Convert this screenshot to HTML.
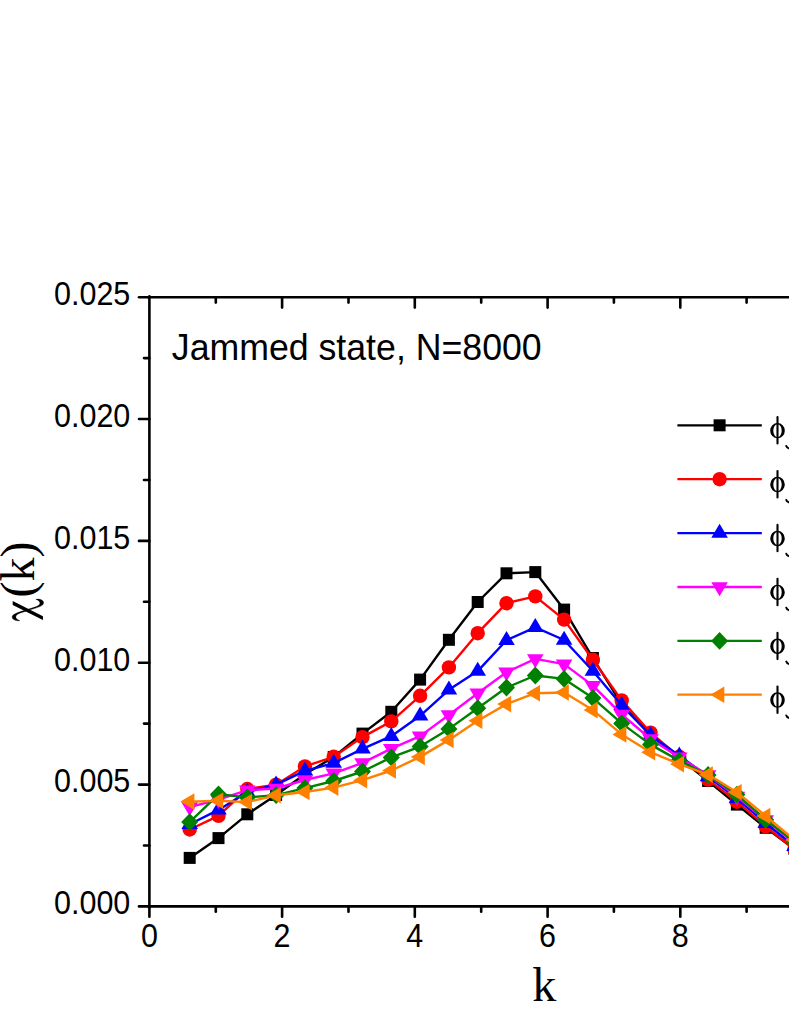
<!DOCTYPE html>
<html><head><meta charset="utf-8"><title>chart</title>
<style>html,body{margin:0;padding:0;background:#fff;}svg{display:block;}text{font-family:"Liberation Sans",sans-serif;fill:#000;}.s{font-family:"Liberation Serif",serif;}</style></head><body>
<svg width="789" height="1021" viewBox="0 0 789 1021">
<rect width="789" height="1021" fill="#fff"/>
<polyline points="189.7,857.9 218.5,838.1 247.3,814.3 276.1,795.0 304.9,774.3 333.7,757.0 362.5,733.6 391.3,711.8 420.1,679.6 448.9,639.8 477.7,602.0 506.5,573.3 535.3,572.1 564.1,609.6 592.9,658.0 621.7,704.4 650.5,735.0 679.3,758.0 708.1,781.0 736.9,804.6 765.7,827.8 794.5,849.0" fill="none" stroke="#000000" stroke-width="2.4" stroke-linejoin="round"/>
<rect x="183.7" y="851.9" width="12.0" height="12.0" fill="#000000"/>
<rect x="212.5" y="832.1" width="12.0" height="12.0" fill="#000000"/>
<rect x="241.3" y="808.3" width="12.0" height="12.0" fill="#000000"/>
<rect x="270.1" y="789.0" width="12.0" height="12.0" fill="#000000"/>
<rect x="298.9" y="768.3" width="12.0" height="12.0" fill="#000000"/>
<rect x="327.7" y="751.0" width="12.0" height="12.0" fill="#000000"/>
<rect x="356.5" y="727.6" width="12.0" height="12.0" fill="#000000"/>
<rect x="385.3" y="705.8" width="12.0" height="12.0" fill="#000000"/>
<rect x="414.1" y="673.6" width="12.0" height="12.0" fill="#000000"/>
<rect x="442.9" y="633.8" width="12.0" height="12.0" fill="#000000"/>
<rect x="471.7" y="596.0" width="12.0" height="12.0" fill="#000000"/>
<rect x="500.5" y="567.3" width="12.0" height="12.0" fill="#000000"/>
<rect x="529.3" y="566.1" width="12.0" height="12.0" fill="#000000"/>
<rect x="558.1" y="603.6" width="12.0" height="12.0" fill="#000000"/>
<rect x="586.9" y="652.0" width="12.0" height="12.0" fill="#000000"/>
<rect x="615.7" y="698.4" width="12.0" height="12.0" fill="#000000"/>
<rect x="644.5" y="729.0" width="12.0" height="12.0" fill="#000000"/>
<rect x="673.3" y="752.0" width="12.0" height="12.0" fill="#000000"/>
<rect x="702.1" y="775.0" width="12.0" height="12.0" fill="#000000"/>
<rect x="730.9" y="798.6" width="12.0" height="12.0" fill="#000000"/>
<rect x="759.7" y="821.8" width="12.0" height="12.0" fill="#000000"/>
<rect x="788.5" y="843.0" width="12.0" height="12.0" fill="#000000"/>
<polyline points="189.7,829.5 218.5,815.8 247.3,789.0 276.1,784.7 304.9,766.4 333.7,756.8 362.5,737.1 391.3,721.4 420.1,695.8 448.9,667.4 477.7,633.2 506.5,603.2 535.3,596.4 564.1,619.6 592.9,659.8 621.7,700.4 650.5,732.6 679.3,756.8 708.1,779.6 736.9,801.7 765.7,826.5 794.5,849.5" fill="none" stroke="#ff0000" stroke-width="2.4" stroke-linejoin="round"/>
<circle cx="189.7" cy="829.5" r="7.2" fill="#ff0000"/>
<circle cx="218.5" cy="815.8" r="7.2" fill="#ff0000"/>
<circle cx="247.3" cy="789.0" r="7.2" fill="#ff0000"/>
<circle cx="276.1" cy="784.7" r="7.2" fill="#ff0000"/>
<circle cx="304.9" cy="766.4" r="7.2" fill="#ff0000"/>
<circle cx="333.7" cy="756.8" r="7.2" fill="#ff0000"/>
<circle cx="362.5" cy="737.1" r="7.2" fill="#ff0000"/>
<circle cx="391.3" cy="721.4" r="7.2" fill="#ff0000"/>
<circle cx="420.1" cy="695.8" r="7.2" fill="#ff0000"/>
<circle cx="448.9" cy="667.4" r="7.2" fill="#ff0000"/>
<circle cx="477.7" cy="633.2" r="7.2" fill="#ff0000"/>
<circle cx="506.5" cy="603.2" r="7.2" fill="#ff0000"/>
<circle cx="535.3" cy="596.4" r="7.2" fill="#ff0000"/>
<circle cx="564.1" cy="619.6" r="7.2" fill="#ff0000"/>
<circle cx="592.9" cy="659.8" r="7.2" fill="#ff0000"/>
<circle cx="621.7" cy="700.4" r="7.2" fill="#ff0000"/>
<circle cx="650.5" cy="732.6" r="7.2" fill="#ff0000"/>
<circle cx="679.3" cy="756.8" r="7.2" fill="#ff0000"/>
<circle cx="708.1" cy="779.6" r="7.2" fill="#ff0000"/>
<circle cx="736.9" cy="801.7" r="7.2" fill="#ff0000"/>
<circle cx="765.7" cy="826.5" r="7.2" fill="#ff0000"/>
<circle cx="794.5" cy="849.5" r="7.2" fill="#ff0000"/>
<polyline points="189.7,824.3 218.5,809.9 247.3,792.0 276.1,784.7 304.9,770.8 333.7,763.1 362.5,748.9 391.3,736.2 420.1,715.8 448.9,689.8 477.7,671.1 506.5,640.2 535.3,627.3 564.1,640.0 592.9,671.0 621.7,705.3 650.5,735.2 679.3,755.7 708.1,776.6 736.9,798.6 765.7,823.2 794.5,846.3" fill="none" stroke="#0000ff" stroke-width="2.4" stroke-linejoin="round"/>
<polygon points="189.7,815.0 198.0,829.0 181.4,829.0" fill="#0000ff"/>
<polygon points="218.5,800.6 226.8,814.6 210.2,814.6" fill="#0000ff"/>
<polygon points="247.3,782.7 255.6,796.7 239.0,796.7" fill="#0000ff"/>
<polygon points="276.1,775.4 284.4,789.4 267.8,789.4" fill="#0000ff"/>
<polygon points="304.9,761.5 313.2,775.5 296.6,775.5" fill="#0000ff"/>
<polygon points="333.7,753.8 342.0,767.8 325.4,767.8" fill="#0000ff"/>
<polygon points="362.5,739.6 370.8,753.6 354.2,753.6" fill="#0000ff"/>
<polygon points="391.3,726.9 399.6,740.9 383.0,740.9" fill="#0000ff"/>
<polygon points="420.1,706.5 428.4,720.5 411.8,720.5" fill="#0000ff"/>
<polygon points="448.9,680.5 457.2,694.5 440.6,694.5" fill="#0000ff"/>
<polygon points="477.7,661.8 486.0,675.8 469.4,675.8" fill="#0000ff"/>
<polygon points="506.5,630.9 514.8,644.9 498.2,644.9" fill="#0000ff"/>
<polygon points="535.3,618.0 543.6,632.0 527.0,632.0" fill="#0000ff"/>
<polygon points="564.1,630.7 572.4,644.7 555.8,644.7" fill="#0000ff"/>
<polygon points="592.9,661.7 601.2,675.7 584.6,675.7" fill="#0000ff"/>
<polygon points="621.7,696.0 630.0,710.0 613.4,710.0" fill="#0000ff"/>
<polygon points="650.5,725.9 658.8,739.9 642.2,739.9" fill="#0000ff"/>
<polygon points="679.3,746.4 687.6,760.4 671.0,760.4" fill="#0000ff"/>
<polygon points="708.1,767.3 716.4,781.3 699.8,781.3" fill="#0000ff"/>
<polygon points="736.9,789.3 745.2,803.3 728.6,803.3" fill="#0000ff"/>
<polygon points="765.7,813.9 774.0,827.9 757.4,827.9" fill="#0000ff"/>
<polygon points="794.5,837.0 802.8,851.0 786.2,851.0" fill="#0000ff"/>
<polyline points="189.7,807.0 218.5,799.6 247.3,790.2 276.1,788.5 304.9,780.0 333.7,773.3 362.5,762.9 391.3,748.6 420.1,736.1 448.9,715.0 477.7,693.3 506.5,672.2 535.3,658.9 564.1,664.1 592.9,685.6 621.7,714.4 650.5,739.0 679.3,757.3 708.1,775.0 736.9,796.5 765.7,820.0 794.5,843.0" fill="none" stroke="#ff00ff" stroke-width="2.4" stroke-linejoin="round"/>
<polygon points="189.7,816.3 198.0,802.3 181.4,802.3" fill="#ff00ff"/>
<polygon points="218.5,808.9 226.8,794.9 210.2,794.9" fill="#ff00ff"/>
<polygon points="247.3,799.5 255.6,785.5 239.0,785.5" fill="#ff00ff"/>
<polygon points="276.1,797.8 284.4,783.8 267.8,783.8" fill="#ff00ff"/>
<polygon points="304.9,789.3 313.2,775.3 296.6,775.3" fill="#ff00ff"/>
<polygon points="333.7,782.6 342.0,768.6 325.4,768.6" fill="#ff00ff"/>
<polygon points="362.5,772.2 370.8,758.2 354.2,758.2" fill="#ff00ff"/>
<polygon points="391.3,757.9 399.6,743.9 383.0,743.9" fill="#ff00ff"/>
<polygon points="420.1,745.4 428.4,731.4 411.8,731.4" fill="#ff00ff"/>
<polygon points="448.9,724.3 457.2,710.3 440.6,710.3" fill="#ff00ff"/>
<polygon points="477.7,702.6 486.0,688.6 469.4,688.6" fill="#ff00ff"/>
<polygon points="506.5,681.5 514.8,667.5 498.2,667.5" fill="#ff00ff"/>
<polygon points="535.3,668.2 543.6,654.2 527.0,654.2" fill="#ff00ff"/>
<polygon points="564.1,673.4 572.4,659.4 555.8,659.4" fill="#ff00ff"/>
<polygon points="592.9,694.9 601.2,680.9 584.6,680.9" fill="#ff00ff"/>
<polygon points="621.7,723.7 630.0,709.7 613.4,709.7" fill="#ff00ff"/>
<polygon points="650.5,748.3 658.8,734.3 642.2,734.3" fill="#ff00ff"/>
<polygon points="679.3,766.6 687.6,752.6 671.0,752.6" fill="#ff00ff"/>
<polygon points="708.1,784.3 716.4,770.3 699.8,770.3" fill="#ff00ff"/>
<polygon points="736.9,805.8 745.2,791.8 728.6,791.8" fill="#ff00ff"/>
<polygon points="765.7,829.3 774.0,815.3 757.4,815.3" fill="#ff00ff"/>
<polygon points="794.5,852.3 802.8,838.3 786.2,838.3" fill="#ff00ff"/>
<polyline points="189.7,822.1 218.5,794.3 247.3,797.4 276.1,795.2 304.9,788.1 333.7,781.0 362.5,771.5 391.3,757.4 420.1,746.6 448.9,728.9 477.7,708.2 506.5,687.6 535.3,675.5 564.1,678.9 592.9,698.1 621.7,723.4 650.5,744.6 679.3,760.6 708.1,775.0 736.9,794.6 765.7,819.8 794.5,842.0" fill="none" stroke="#008000" stroke-width="2.4" stroke-linejoin="round"/>
<polygon points="189.7,813.2 198.2,822.1 189.7,831.0 181.2,822.1" fill="#008000"/>
<polygon points="218.5,785.4 227.0,794.3 218.5,803.2 210.0,794.3" fill="#008000"/>
<polygon points="247.3,788.5 255.8,797.4 247.3,806.3 238.8,797.4" fill="#008000"/>
<polygon points="276.1,786.3 284.6,795.2 276.1,804.1 267.6,795.2" fill="#008000"/>
<polygon points="304.9,779.2 313.4,788.1 304.9,797.0 296.4,788.1" fill="#008000"/>
<polygon points="333.7,772.1 342.2,781.0 333.7,789.9 325.2,781.0" fill="#008000"/>
<polygon points="362.5,762.6 371.0,771.5 362.5,780.4 354.0,771.5" fill="#008000"/>
<polygon points="391.3,748.5 399.8,757.4 391.3,766.3 382.8,757.4" fill="#008000"/>
<polygon points="420.1,737.7 428.6,746.6 420.1,755.5 411.6,746.6" fill="#008000"/>
<polygon points="448.9,720.0 457.4,728.9 448.9,737.8 440.4,728.9" fill="#008000"/>
<polygon points="477.7,699.3 486.2,708.2 477.7,717.1 469.2,708.2" fill="#008000"/>
<polygon points="506.5,678.7 515.0,687.6 506.5,696.5 498.0,687.6" fill="#008000"/>
<polygon points="535.3,666.6 543.8,675.5 535.3,684.4 526.8,675.5" fill="#008000"/>
<polygon points="564.1,670.0 572.6,678.9 564.1,687.8 555.6,678.9" fill="#008000"/>
<polygon points="592.9,689.2 601.4,698.1 592.9,707.0 584.4,698.1" fill="#008000"/>
<polygon points="621.7,714.5 630.2,723.4 621.7,732.3 613.2,723.4" fill="#008000"/>
<polygon points="650.5,735.7 659.0,744.6 650.5,753.5 642.0,744.6" fill="#008000"/>
<polygon points="679.3,751.7 687.8,760.6 679.3,769.5 670.8,760.6" fill="#008000"/>
<polygon points="708.1,766.1 716.6,775.0 708.1,783.9 699.6,775.0" fill="#008000"/>
<polygon points="736.9,785.7 745.4,794.6 736.9,803.5 728.4,794.6" fill="#008000"/>
<polygon points="765.7,810.9 774.2,819.8 765.7,828.7 757.2,819.8" fill="#008000"/>
<polygon points="794.5,833.1 803.0,842.0 794.5,850.9 786.0,842.0" fill="#008000"/>
<polyline points="189.7,801.6 218.5,800.8 247.3,802.1 276.1,795.3 304.9,792.0 333.7,787.6 362.5,780.2 391.3,770.5 420.1,756.9 448.9,739.9 477.7,720.8 506.5,704.1 535.3,693.2 564.1,692.5 592.9,710.1 621.7,734.4 650.5,752.2 679.3,764.1 708.1,774.6 736.9,792.2 765.7,816.0 794.5,840.0" fill="none" stroke="#ff8000" stroke-width="2.4" stroke-linejoin="round"/>
<polygon points="180.4,801.6 194.4,793.3 194.4,809.9" fill="#ff8000"/>
<polygon points="209.2,800.8 223.2,792.5 223.2,809.1" fill="#ff8000"/>
<polygon points="238.0,802.1 252.0,793.8 252.0,810.4" fill="#ff8000"/>
<polygon points="266.8,795.3 280.8,787.0 280.8,803.6" fill="#ff8000"/>
<polygon points="295.6,792.0 309.6,783.7 309.6,800.3" fill="#ff8000"/>
<polygon points="324.4,787.6 338.4,779.3 338.4,795.9" fill="#ff8000"/>
<polygon points="353.2,780.2 367.2,771.9 367.2,788.5" fill="#ff8000"/>
<polygon points="382.0,770.5 396.0,762.2 396.0,778.8" fill="#ff8000"/>
<polygon points="410.8,756.9 424.8,748.6 424.8,765.2" fill="#ff8000"/>
<polygon points="439.6,739.9 453.6,731.6 453.6,748.2" fill="#ff8000"/>
<polygon points="468.4,720.8 482.4,712.5 482.4,729.1" fill="#ff8000"/>
<polygon points="497.2,704.1 511.2,695.8 511.2,712.4" fill="#ff8000"/>
<polygon points="526.0,693.2 540.0,684.9 540.0,701.5" fill="#ff8000"/>
<polygon points="554.8,692.5 568.8,684.2 568.8,700.8" fill="#ff8000"/>
<polygon points="583.6,710.1 597.6,701.8 597.6,718.4" fill="#ff8000"/>
<polygon points="612.4,734.4 626.4,726.1 626.4,742.7" fill="#ff8000"/>
<polygon points="641.2,752.2 655.2,743.9 655.2,760.5" fill="#ff8000"/>
<polygon points="670.0,764.1 684.0,755.8 684.0,772.4" fill="#ff8000"/>
<polygon points="698.8,774.6 712.8,766.3 712.8,782.9" fill="#ff8000"/>
<polygon points="727.6,792.2 741.6,783.9 741.6,800.5" fill="#ff8000"/>
<polygon points="756.4,816.0 770.4,807.7 770.4,824.3" fill="#ff8000"/>
<polygon points="785.2,840.0 799.2,831.7 799.2,848.3" fill="#ff8000"/>
<g stroke="#000" stroke-width="2.6" fill="none" stroke-linecap="round">
<line x1="149.4" y1="296.2" x2="149.4" y2="907.4"/>
<line x1="148.4" y1="906.4" x2="789" y2="906.4"/>
<line x1="148.4" y1="297.2" x2="789" y2="297.2"/>
<line x1="149.4" y1="906.4" x2="149.4" y2="916.8"/>
<line x1="215.8" y1="906.4" x2="215.8" y2="911.8"/>
<line x1="215.8" y1="297.2" x2="215.8" y2="302.59999999999997"/>
<line x1="282.1" y1="906.4" x2="282.1" y2="916.8"/>
<line x1="282.1" y1="297.2" x2="282.1" y2="307.59999999999997"/>
<line x1="348.5" y1="906.4" x2="348.5" y2="911.8"/>
<line x1="348.5" y1="297.2" x2="348.5" y2="302.59999999999997"/>
<line x1="414.8" y1="906.4" x2="414.8" y2="916.8"/>
<line x1="414.8" y1="297.2" x2="414.8" y2="307.59999999999997"/>
<line x1="481.2" y1="906.4" x2="481.2" y2="911.8"/>
<line x1="481.2" y1="297.2" x2="481.2" y2="302.59999999999997"/>
<line x1="547.6" y1="906.4" x2="547.6" y2="916.8"/>
<line x1="547.6" y1="297.2" x2="547.6" y2="307.59999999999997"/>
<line x1="613.9" y1="906.4" x2="613.9" y2="911.8"/>
<line x1="613.9" y1="297.2" x2="613.9" y2="302.59999999999997"/>
<line x1="680.3" y1="906.4" x2="680.3" y2="916.8"/>
<line x1="680.3" y1="297.2" x2="680.3" y2="307.59999999999997"/>
<line x1="746.6" y1="906.4" x2="746.6" y2="911.8"/>
<line x1="746.6" y1="297.2" x2="746.6" y2="302.59999999999997"/>
<line x1="149.4" y1="906.4" x2="139.0" y2="906.4"/>
<line x1="149.4" y1="845.5" x2="144.0" y2="845.5"/>
<line x1="149.4" y1="784.6" x2="139.0" y2="784.6"/>
<line x1="149.4" y1="723.6" x2="144.0" y2="723.6"/>
<line x1="149.4" y1="662.7" x2="139.0" y2="662.7"/>
<line x1="149.4" y1="601.8" x2="144.0" y2="601.8"/>
<line x1="149.4" y1="540.9" x2="139.0" y2="540.9"/>
<line x1="149.4" y1="480.0" x2="144.0" y2="480.0"/>
<line x1="149.4" y1="419.0" x2="139.0" y2="419.0"/>
<line x1="149.4" y1="358.1" x2="144.0" y2="358.1"/>
<line x1="149.4" y1="297.2" x2="139.0" y2="297.2"/>
</g>
<text transform="translate(149.4,947.3) scale(1,1.06)" font-size="30.5" text-anchor="middle">0</text>
<text transform="translate(282.1,947.3) scale(1,1.06)" font-size="30.5" text-anchor="middle">2</text>
<text transform="translate(414.8,947.3) scale(1,1.06)" font-size="30.5" text-anchor="middle">4</text>
<text transform="translate(547.6,947.3) scale(1,1.06)" font-size="30.5" text-anchor="middle">6</text>
<text transform="translate(680.3,947.3) scale(1,1.06)" font-size="30.5" text-anchor="middle">8</text>
<text transform="translate(130.3,914.2) scale(1,1.06)" font-size="30.5" text-anchor="end">0.000</text>
<text transform="translate(130.3,792.4) scale(1,1.06)" font-size="30.5" text-anchor="end">0.005</text>
<text transform="translate(130.3,670.5) scale(1,1.06)" font-size="30.5" text-anchor="end">0.010</text>
<text transform="translate(130.3,548.7) scale(1,1.06)" font-size="30.5" text-anchor="end">0.015</text>
<text transform="translate(130.3,426.8) scale(1,1.06)" font-size="30.5" text-anchor="end">0.020</text>
<text transform="translate(130.3,305.0) scale(1,1.06)" font-size="30.5" text-anchor="end">0.025</text>
<text transform="translate(171.8,359.9) scale(1,1.06)" font-size="35.7">Jammed state, N=8000</text>
<text class="s" x="532.3" y="1000.7" font-size="48">k</text>
<path d="M12.70 601.01 L12.70 604.89 L42.93 620.07 L42.93 616.19 Z" fill="#000"/>
<path d="M19.95 620.69 C17.26 621.21 12.13 620.24 12.13 617.10 C12.13 614.25 16.41 612.82 27.82 609.28 C34.66 607.29 39.91 605.98 39.91 603.12 C39.91 601.41 38.37 600.27 35.80 599.30 C39.23 598.56 43.68 599.99 43.68 602.84 C43.68 605.69 39.23 607.12 27.82 610.65 C20.97 612.65 15.84 613.96 15.84 616.81 C15.84 618.53 17.26 619.67 19.95 620.69 Z" fill="#000" stroke="#000" stroke-width="0.3" stroke-linejoin="round"/>
<text class="s" transform="translate(34.2,597.4) rotate(-90)" font-size="48">(k)</text>
<line x1="677.4" y1="425.3" x2="761.8" y2="425.3" stroke="#000000" stroke-width="2.3"/>
<rect x="713.6" y="419.3" width="12.0" height="12.0" fill="#000000"/>
<path d="M770.20 430.65 a7.3 7.7 0 1 1 14.6 0 a7.3 7.7 0 1 1 -14.6 0 Z M773.30 430.65 a4.2 6.5 0 1 0 8.4 0 a4.2 6.5 0 1 0 -8.4 0 Z" fill="#000" fill-rule="evenodd"/>
<line x1="777.5" y1="417.1" x2="777.5" y2="443.5" stroke="#000" stroke-width="2.1" stroke-linecap="round"/>
<path d="M786.3 446.0 q0.7 2.6 3.8 2.6" fill="none" stroke="#000" stroke-width="2.0" stroke-linecap="round"/>
<line x1="677.4" y1="479.2" x2="761.8" y2="479.2" stroke="#ff0000" stroke-width="2.3"/>
<circle cx="719.6" cy="479.2" r="7.2" fill="#ff0000"/>
<path d="M770.20 484.55 a7.3 7.7 0 1 1 14.6 0 a7.3 7.7 0 1 1 -14.6 0 Z M773.30 484.55 a4.2 6.5 0 1 0 8.4 0 a4.2 6.5 0 1 0 -8.4 0 Z" fill="#000" fill-rule="evenodd"/>
<line x1="777.5" y1="471.0" x2="777.5" y2="497.4" stroke="#000" stroke-width="2.1" stroke-linecap="round"/>
<path d="M786.3 499.9 q0.7 2.6 3.8 2.6" fill="none" stroke="#000" stroke-width="2.0" stroke-linecap="round"/>
<line x1="677.4" y1="533.1" x2="761.8" y2="533.1" stroke="#0000ff" stroke-width="2.3"/>
<polygon points="719.6,523.8 727.9,537.8 711.3,537.8" fill="#0000ff"/>
<path d="M770.20 538.45 a7.3 7.7 0 1 1 14.6 0 a7.3 7.7 0 1 1 -14.6 0 Z M773.30 538.45 a4.2 6.5 0 1 0 8.4 0 a4.2 6.5 0 1 0 -8.4 0 Z" fill="#000" fill-rule="evenodd"/>
<line x1="777.5" y1="524.9" x2="777.5" y2="551.3" stroke="#000" stroke-width="2.1" stroke-linecap="round"/>
<path d="M786.3 553.8 q0.7 2.6 3.8 2.6" fill="none" stroke="#000" stroke-width="2.0" stroke-linecap="round"/>
<line x1="677.4" y1="587.0" x2="761.8" y2="587.0" stroke="#ff00ff" stroke-width="2.3"/>
<polygon points="719.6,596.3 727.9,582.3 711.3,582.3" fill="#ff00ff"/>
<path d="M770.20 592.35 a7.3 7.7 0 1 1 14.6 0 a7.3 7.7 0 1 1 -14.6 0 Z M773.30 592.35 a4.2 6.5 0 1 0 8.4 0 a4.2 6.5 0 1 0 -8.4 0 Z" fill="#000" fill-rule="evenodd"/>
<line x1="777.5" y1="578.8" x2="777.5" y2="605.2" stroke="#000" stroke-width="2.1" stroke-linecap="round"/>
<path d="M786.3 607.7 q0.7 2.6 3.8 2.6" fill="none" stroke="#000" stroke-width="2.0" stroke-linecap="round"/>
<line x1="677.4" y1="640.9" x2="761.8" y2="640.9" stroke="#008000" stroke-width="2.3"/>
<polygon points="719.6,632.0 728.1,640.9 719.6,649.8 711.1,640.9" fill="#008000"/>
<path d="M770.20 646.25 a7.3 7.7 0 1 1 14.6 0 a7.3 7.7 0 1 1 -14.6 0 Z M773.30 646.25 a4.2 6.5 0 1 0 8.4 0 a4.2 6.5 0 1 0 -8.4 0 Z" fill="#000" fill-rule="evenodd"/>
<line x1="777.5" y1="632.7" x2="777.5" y2="659.1" stroke="#000" stroke-width="2.1" stroke-linecap="round"/>
<path d="M786.3 661.6 q0.7 2.6 3.8 2.6" fill="none" stroke="#000" stroke-width="2.0" stroke-linecap="round"/>
<line x1="677.4" y1="694.7" x2="761.8" y2="694.7" stroke="#ff8000" stroke-width="2.3"/>
<polygon points="710.3,694.7 724.3,686.4 724.3,703.0" fill="#ff8000"/>
<path d="M770.20 700.05 a7.3 7.7 0 1 1 14.6 0 a7.3 7.7 0 1 1 -14.6 0 Z M773.30 700.05 a4.2 6.5 0 1 0 8.4 0 a4.2 6.5 0 1 0 -8.4 0 Z" fill="#000" fill-rule="evenodd"/>
<line x1="777.5" y1="686.5" x2="777.5" y2="712.9" stroke="#000" stroke-width="2.1" stroke-linecap="round"/>
<path d="M786.3 715.4 q0.7 2.6 3.8 2.6" fill="none" stroke="#000" stroke-width="2.0" stroke-linecap="round"/>
</svg></body></html>
